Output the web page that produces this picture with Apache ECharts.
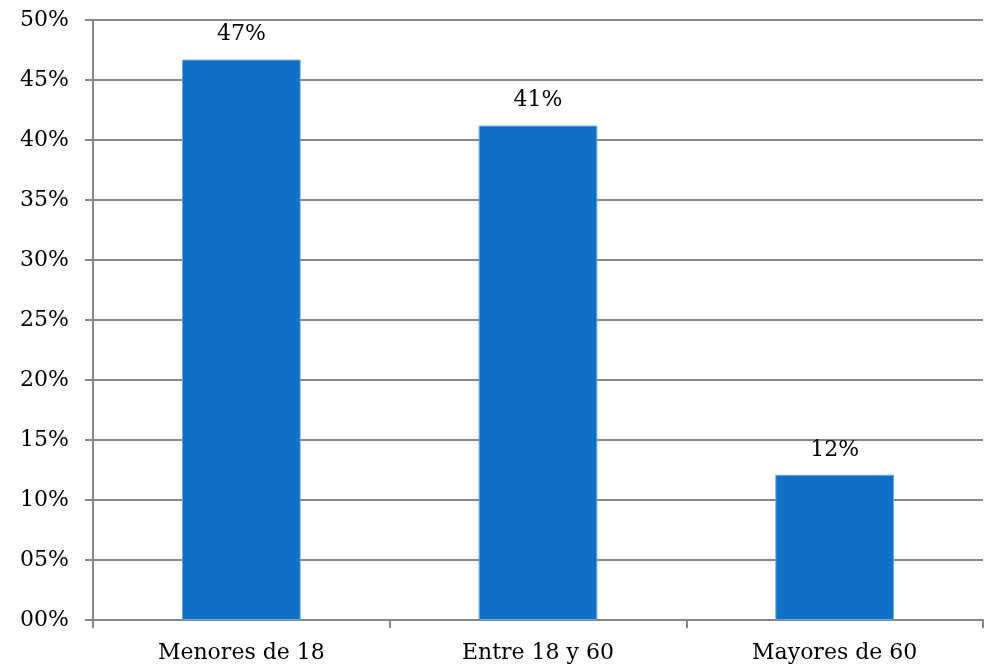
<!DOCTYPE html>
<html><head><meta charset="utf-8">
<script src="https://cdn.jsdelivr.net/npm/echarts@6/dist/echarts.min.js"></script>
<style>html,body{margin:0;padding:0;background:#fff}#c{width:984px;height:667px}</style>
</head><body><div id="c"></div>
<script>
var categories = ["Menores de 18", "Entre 18 y 60", "Mayores de 60"];
var values = [46.7, 41.2, 12.1];
var yTicks = [0, 5, 10, 15, 20, 25, 30, 35, 40, 45, 50];

var font = "'DejaVu Serif', 'Liberation Serif', serif";
var chart = echarts.init(document.getElementById('c'));
chart.setOption({
  animation: false,
  grid: { left: 93, right: 1, top: 20, bottom: 47, containLabel: false },
  xAxis: {
    type: 'category', data: categories,
    axisLine: { lineStyle: { color: '#868686', width: 2 } },
    axisTick: { show: true, length: 8, lineStyle: { color: '#868686', width: 2 }, alignWithLabel: false },
    axisLabel: { color: '#000', fontFamily: font, fontSize: 22, margin: 22 },
    splitLine: { show: false }
  },
  yAxis: {
    type: 'value', min: yTicks[0], max: yTicks[yTicks.length - 1], interval: 5,
    axisLine: { show: true, lineStyle: { color: '#868686', width: 2 } },
    axisTick: { show: true, length: 8, lineStyle: { color: '#868686', width: 2 } },
    axisLabel: { color: '#000', fontFamily: font, fontSize: 22, margin: 24,
      formatter: function (v) { return (v < 10 ? '0' : '') + v + '%'; } },
    splitLine: { show: true, lineStyle: { color: '#868686', width: 2 } }
  },
  series: [{
    type: 'bar', data: values, barWidth: '40%',
    itemStyle: { color: '#1170C6', borderColor: '#6aa8e0', borderWidth: 1 },
    label: { show: true, position: 'top', distance: 14, color: '#000', fontFamily: font, fontSize: 22,
      formatter: function (p) { return Math.round(p.value) + '%'; } }
  }]
});
</script></body></html>
